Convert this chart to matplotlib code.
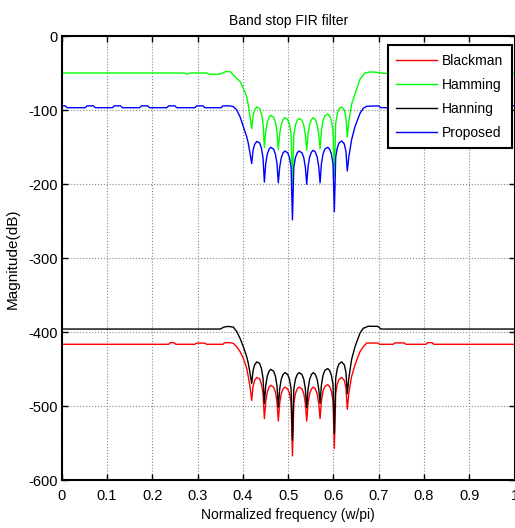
import matplotlib.pyplot as plt

plt.rcParams['font.family'] = ['Liberation Sans', 'DejaVu Sans']
plt.rcParams['axes.unicode_minus'] = False

# stopband points shared by all responses: nulls and the points around each lobe
stop_f = [0.4195,
          0.4225, 0.4260, 0.4306, 0.4370, 0.4410, 0.4445,
          0.4475,
          0.4505, 0.4540, 0.4580, 0.4615, 0.4678, 0.4718, 0.4753,
          0.4783,
          0.4813, 0.4848, 0.4888, 0.4930, 0.4990, 0.5030, 0.5065,
          0.5095,
          0.5125, 0.5160, 0.5200, 0.5240, 0.5305, 0.5345, 0.5380,
          0.5410,
          0.5440, 0.5475, 0.5515, 0.5555, 0.5600, 0.5640, 0.5675,
          0.5705,
          0.5735, 0.5770, 0.5810, 0.5873, 0.5915, 0.5955, 0.5990,
          0.6020,
          0.6050, 0.6085, 0.6125, 0.6182, 0.6240, 0.6276,
          0.6306]

# Blackman
blackman_left_f = [0, 0.236, 0.240, 0.248, 0.252, 0.294, 0.298, 0.316, 0.320, 0.356, 0.360, 0.372,
                   0.379, 0.3864, 0.3937, 0.401, 0.4085, 0.412, 0.4158]
blackman_left_db = [-416.2, -416.2, -414, -414, -416.2, -416.2, -414.6, -414.6, -416.2, -416.2, -414, -414,
                    -415, -419.5, -426, -435, -448.6, -460, -473.5]
blackman_stop_db = [-492,
                    -473, -465, -461, -463, -470, -483,
                    -516.6,
                    -493.6, -480.6, -474.1, -471.6, -474.1, -480.6, -493.6,
                    -520,
                    -496, -483, -476.5, -474, -476.5, -483, -496,
                    -567,
                    -496, -483, -476.5, -474, -476.5, -483, -496,
                    -520,
                    -496, -483, -476.5, -474, -476.5, -483, -496,
                    -516.6,
                    -492.7, -479.7, -473.2, -470.7, -473.2, -479.7, -492.7,
                    -557,
                    -483, -470, -463.5, -461, -465, -475,
                    -504]
blackman_right_f = [0.634, 0.640, 0.6476, 0.6587, 0.666, 0.6735, 0.698, 0.702, 0.732, 0.736, 0.756, 0.760,
                    0.804, 0.808, 0.818, 0.822, 1.0]
blackman_right_db = [-482, -460, -444, -426, -419.5, -414.5, -414.5, -416.2, -416.2, -414.3, -414.3, -416.2,
                     -416.2, -414, -414, -416.2, -416.2]

# Hamming
hamming_left_f = [0, 0.270, 0.277, 0.284, 0.320, 0.326, 0.348, 0.355, 0.362, 0.372,
                  0.379, 0.3864, 0.3937, 0.401, 0.4085, 0.412, 0.4158]
hamming_left_db = [-49.6, -49.6, -51, -49.6, -49.6, -51.3, -51.3, -49.5, -47.7, -47.8,
                   -52.3, -56.8, -61, -70, -81.6, -92.8, -108.6]
hamming_stop_db = [-124.7,
                   -107.5, -99.5, -95.5, -97.5, -104.5, -117.5,
                   -150,
                   -128.8, -115.8, -109.3, -106.8, -109.3, -115.8, -128.8,
                   -153,
                   -132, -119, -112.5, -110, -112.5, -119, -132,
                   -199,
                   -133, -120, -113.5, -111, -113.5, -120, -133,
                   -154,
                   -132, -119, -112.5, -110, -112.5, -119, -132,
                   -152,
                   -127, -114, -107.5, -105, -107.5, -114, -127,
                   -190,
                   -117.5, -104.5, -98, -95.5, -99.5, -109.5,
                   -136]
hamming_right_f = [0.634, 0.640, 0.6476, 0.6587, 0.6697, 0.6807, 0.695, 0.710, 1.0]
hamming_right_db = [-115, -92, -78, -58, -49.5, -48.2, -48.6, -50, -49.6]

# Hanning
hanning_left_f = [0, 0.350, 0.358, 0.3672, 0.379, 0.3864, 0.3937, 0.401, 0.4085, 0.412, 0.4158]
hanning_left_db = [-395.6, -395.6, -393, -392, -393, -399, -408, -419.5, -433, -442, -455]
hanning_stop_db = [-469,
                   -452, -444, -440, -442, -449, -462,
                   -496,
                   -472, -459, -452.5, -450, -452.5, -459, -472,
                   -501,
                   -476.5, -463.5, -457, -454.5, -457, -463.5, -476.5,
                   -546,
                   -476.5, -463.5, -457, -454.5, -457, -463.5, -476.5,
                   -502,
                   -476.5, -463.5, -457, -454.5, -457, -463.5, -476.5,
                   -496,
                   -471, -458, -451.5, -449, -451.5, -458, -471,
                   -537,
                   -462, -449, -442.5, -440, -444, -454,
                   -483]
hanning_right_f = [0.634, 0.640, 0.6476, 0.6587, 0.666, 0.677, 0.698, 0.705, 1.0]
hanning_right_db = [-462, -437, -419.5, -401, -394.6, -391.8, -392, -395.6, -395.6]

# Proposed
proposed_left_f = [0, 0.008, 0.012, 0.052, 0.056, 0.070, 0.074, 0.112, 0.116, 0.130, 0.134,
                   0.172, 0.176, 0.190, 0.194, 0.232, 0.236, 0.250, 0.254, 0.294, 0.298,
                   0.312, 0.316, 0.352, 0.356, 0.372, 0.379, 0.3864, 0.3937, 0.401, 0.4085,
                   0.412, 0.4158]
proposed_left_db = [-94, -94, -96.5, -96.5, -94, -94, -96.5, -96.5, -94, -94, -96.5,
                    -96.5, -94, -94, -96.5, -96.5, -94, -94, -96.5, -96.5, -94,
                    -94, -96.5, -96.5, -94, -94, -95, -99.6, -108.6, -122, -135.7,
                    -144.6, -158]
proposed_stop_db = [-172,
                    -154, -146, -142, -144, -151, -164,
                    -197,
                    -172, -159, -152.5, -150, -152.5, -159, -172,
                    -198,
                    -177, -164, -157.5, -155, -157.5, -164, -177,
                    -248,
                    -177, -164, -157.5, -155, -157.5, -164, -177,
                    -200,
                    -176, -163, -156.5, -154, -156.5, -163, -176,
                    -198,
                    -172, -159, -152.5, -150, -152.5, -159, -172,
                    -237,
                    -163.5, -150.5, -144, -141.5, -145.5, -155.5,
                    -182]
proposed_right_f = [0.634, 0.640, 0.6476, 0.6587, 0.666, 0.6735, 0.700, 0.704, 0.738, 0.742, 0.756,
                    0.760, 0.800, 0.804, 0.818, 0.822, 0.860, 0.864, 0.878, 0.882, 0.920,
                    0.924, 0.938, 0.942, 0.980, 0.984, 1.0]
proposed_right_db = [-163, -140, -122, -104, -97.3, -94.5, -94, -96.5, -96.5, -94, -94,
                     -96.5, -96.5, -94, -94, -96.5, -96.5, -94, -94, -96.5, -96.5,
                     -94, -94, -96.5, -96.5, -94, -94]

xticks = [0, 0.1, 0.2, 0.3, 0.4, 0.5, 0.6, 0.7, 0.8, 0.9, 1]
xtick_labels = ['0', '0.1', '0.2', '0.3', '0.4', '0.5', '0.6', '0.7', '0.8', '0.9', '1']
yticks = [-600, -500, -400, -300, -200, -100, 0]

fig = plt.figure(figsize=(5.15, 5.28), dpi=100)
ax = fig.add_axes([61.7 / 515, 47.7 / 528, 452.9 / 515, 444 / 528])

ax.plot(blackman_left_f + stop_f + blackman_right_f,
        blackman_left_db + blackman_stop_db + blackman_right_db,
        color='#ff0000', lw=1, label='Blackman')
ax.plot(hamming_left_f + stop_f + hamming_right_f,
        hamming_left_db + hamming_stop_db + hamming_right_db,
        color='#00ff00', lw=1, label='Hamming')
ax.plot(hanning_left_f + stop_f + hanning_right_f,
        hanning_left_db + hanning_stop_db + hanning_right_db,
        color='black', lw=1, label='Hanning')
ax.plot(proposed_left_f + stop_f + proposed_right_f,
        proposed_left_db + proposed_stop_db + proposed_right_db,
        color='#0000ff', lw=1, label='Proposed')

ax.set_xlim(0, 1)
ax.set_ylim(-600, 0)
ax.set_xticks(xticks)
ax.set_xticklabels(xtick_labels)
ax.set_yticks(yticks)
ax.grid(True, color='#888888', linestyle=':', lw=0.8)
ax.tick_params(direction='in', length=4, width=1, labelsize=10.5, top=True, right=True)
ax.tick_params(axis='x', pad=6)
ax.tick_params(axis='y', pad=3)
for s in ax.spines.values():
    s.set_linewidth(1.5)

ax.set_title('Band stop FIR filter', fontsize=10, pad=8)
ax.set_xlabel('Normalized frequency (w/pi)', fontsize=10, labelpad=4)
ax.set_ylabel('Magnitude(dB)', fontsize=11, labelpad=6)

leg = ax.legend(loc='upper left', bbox_to_anchor=(0.7205, 0.980), borderaxespad=0,
                fancybox=False, edgecolor='black', framealpha=1, fontsize=10,
                handlelength=2.9, handletextpad=0.4, borderpad=0.6, labelspacing=0.72)
leg.get_frame().set_linewidth(1.5)

plt.savefig('out.png', dpi=100)
